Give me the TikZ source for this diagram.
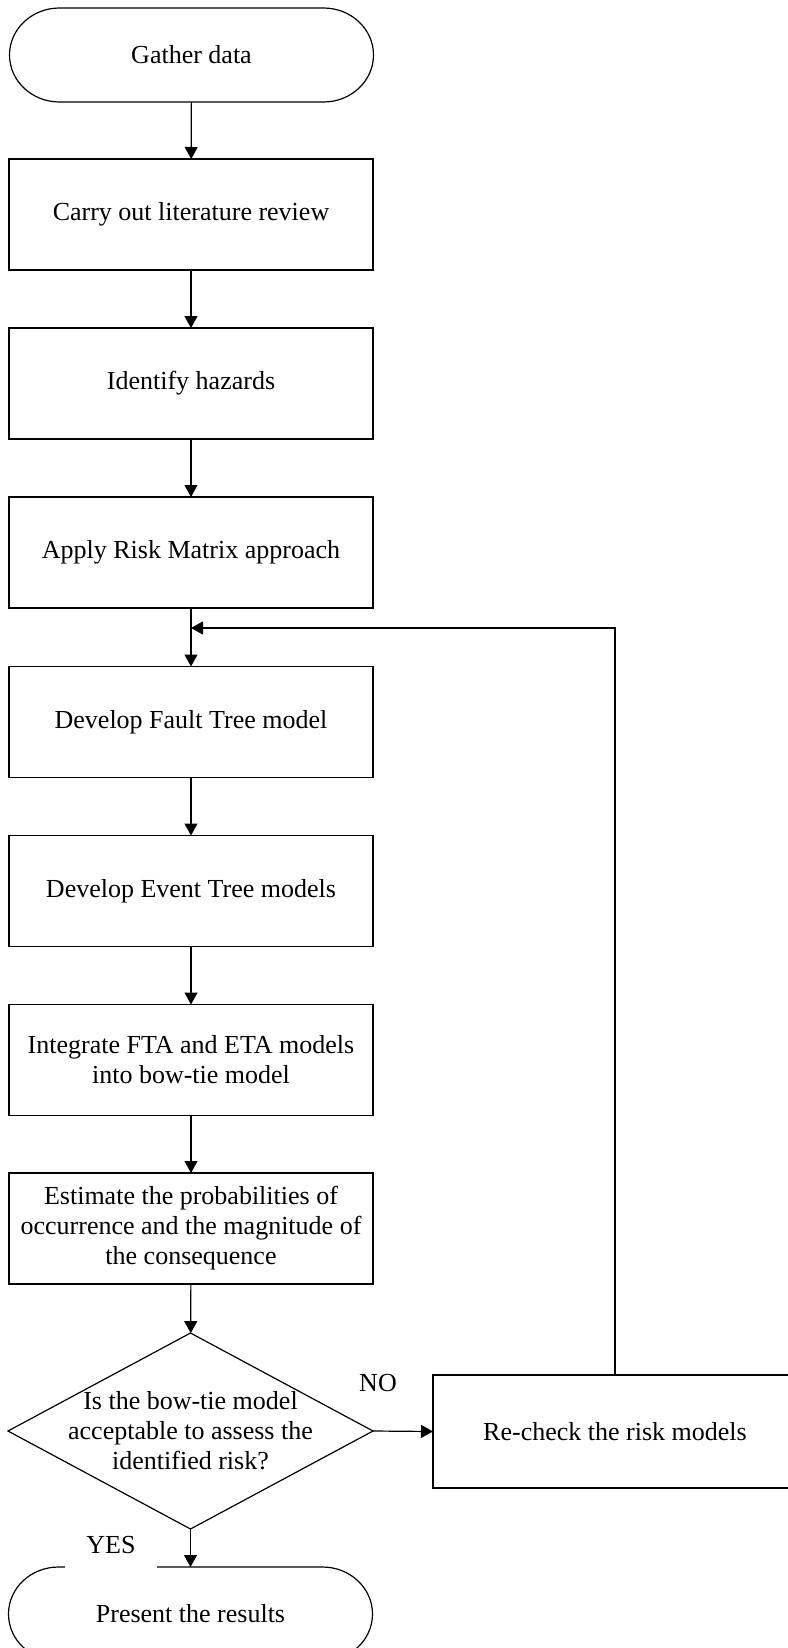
\documentclass[tikz,border=0pt]{standalone}
\usepackage{fontspec}
\setmainfont{Liberation Serif}
\usetikzlibrary{arrows.meta,shapes.geometric}

\tikzset{
  stepbox/.style={draw, line width=0.6pt, minimum width=182pt, minimum height=55.5pt,
    inner sep=0pt, outer sep=0pt, align=center},
  termbox/.style={minimum width=182pt, minimum height=47pt, inner sep=0pt, outer sep=0pt},
  decision/.style={draw, line width=0.6pt, diamond, minimum width=182.5pt, minimum height=98pt,
    inner sep=0pt, outer sep=0pt},
  flow/.style={line width=0.6pt, -{Triangle[length=6pt,width=6.5pt]}},
}

\begin{document}
\begin{tikzpicture}[x=0.5pt,y=-0.5pt,font=\fontsize{13}{15}\selectfont]
			\useasboundingbox (0,0) rectangle (787,1648);

			% Draw start and end terminals
			\node[termbox] (start) at (191.5,55) {Gather data};
			\node[termbox] (present) at (190.5,1614) {Present the results};
			\draw[line width=0.6pt] ([xshift=25pt]start.north west) -- ([xshift=-25pt]start.north east)
				arc[start angle=90,end angle=-90,x radius=25pt,y radius=23.5pt]
				-- ([xshift=25pt]start.south west)
				arc[start angle=270,end angle=90,x radius=25pt,y radius=23.5pt] -- cycle;
			\draw[line width=0.6pt] ([xshift=25pt]present.north west) -- ([xshift=-25pt]present.north east)
				arc[start angle=90,end angle=-90,x radius=25pt,y radius=23.5pt]
				-- ([xshift=25pt]present.south west)
				arc[start angle=270,end angle=90,x radius=25pt,y radius=23.5pt] -- cycle;

			% Draw process boxes
			\node[stepbox] (lit) at (191,214.5) {Carry out literature review};
			\node[stepbox] (haz) at (191,383.5) {Identify hazards};
			\node[stepbox] (riskmat) at (191,552.5) {Apply Risk Matrix approach};
			\node[stepbox] (fault) at (191,722) {Develop Fault Tree model};
			\node[stepbox] (event) at (191,891) {Develop Event Tree models};
			\node[stepbox] (integ) at (191,1060) {Integrate FTA and ETA models\\into bow-tie model};
			\node[stepbox] (estim) at (191,1228.5) {Estimate the probabilities of\\occurrence and the magnitude of\\the consequence};
			\node[stepbox, minimum height=56.5pt] (recheck) at (615,1431.5) {Re-check the risk models};

			% Draw decision
			\node[decision] (check) at (190.5,1431) {};
			\node[align=center, inner sep=0pt] (checktxt) at (check.center) {Is the bow-tie model\\acceptable to assess the\\identified risk?};

			% Draw labels
			\node (no) at (378,1383) {NO};
			\node[fill=white, minimum width=46pt, minimum height=24pt, inner sep=0pt] (yes) at (111,1545) {YES};

			% Draw arrows
			\draw[flow] (start) -- (lit);
			\draw[flow] (lit) -- (haz);
			\draw[flow] (haz) -- (riskmat);
			\draw[flow] (riskmat) -- (fault);
			\draw[flow] (fault) -- (event);
			\draw[flow] (event) -- (integ);
			\draw[flow] (integ) -- (estim);
			\draw[flow] (estim) -- (check);
			\draw[flow] (check.east) -- (recheck.west);
			\draw[flow] (check.south) -- (present.north);

			% Draw loop back
			\coordinate (merge) at (191,628);
			\draw[flow] (recheck.north) |- (merge);
		\end{tikzpicture}
\end{document}
